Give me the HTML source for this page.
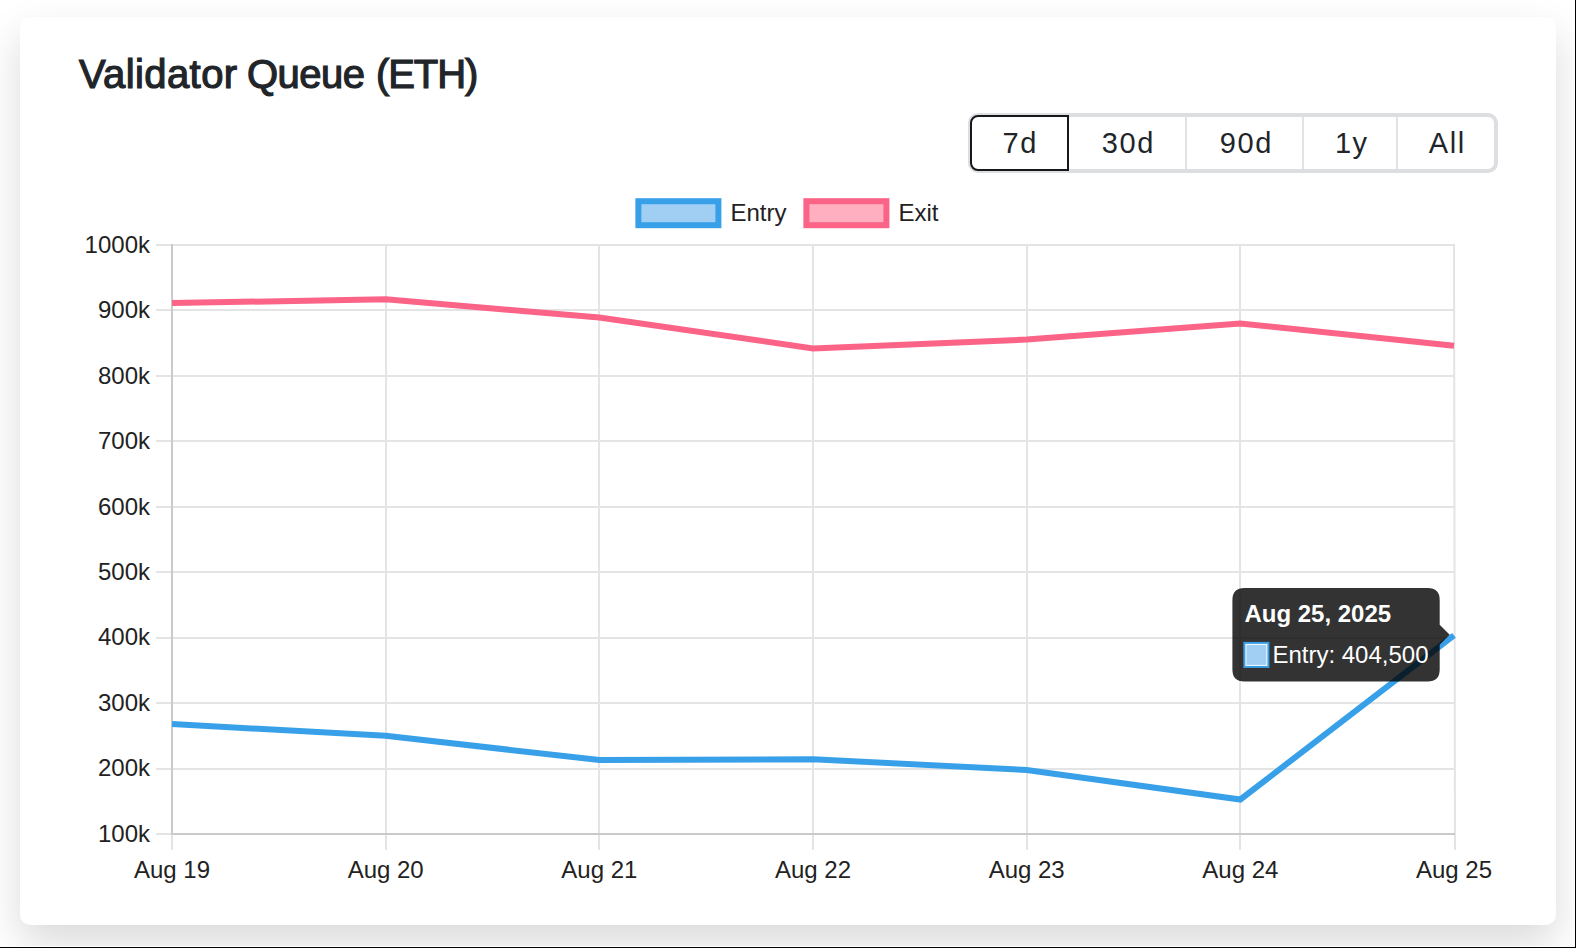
<!DOCTYPE html>
<html><head><meta charset="utf-8">
<style>
html,body{margin:0;padding:0;}
body{width:1576px;height:948px;position:relative;overflow:hidden;background:#fff;font-family:"Liberation Sans",sans-serif;}
.card{position:absolute;left:20px;top:17px;width:1536px;height:908px;background:#fff;border-radius:10px;box-shadow:0 18px 40px rgba(0,0,0,0.15);}
.title{position:absolute;left:79px;top:50px;font-size:40px;font-weight:normal;-webkit-text-stroke:1.2px #212529;letter-spacing:-0.2px;color:#212529;line-height:48px;white-space:nowrap;}
.grp{position:absolute;left:968px;top:113px;width:530px;height:60px;box-sizing:border-box;border:4px solid #dcdee1;border-radius:10px;background:#fff;}
.btn{position:absolute;top:0;height:52px;line-height:53px;text-align:center;font-size:29px;letter-spacing:1.6px;text-indent:1.6px;color:#212529;}
.div{position:absolute;top:0;width:2px;height:52px;background:#e2e3e5;}
.act{position:absolute;left:970px;top:115px;width:99px;height:56px;box-sizing:border-box;border:2px solid #16181b;border-radius:8px 0 0 8px;background:#fff;}
svg{position:absolute;left:0;top:0;}
.t{font-family:"Liberation Sans",sans-serif;font-size:24px;fill:#222;}
.tb{font-family:"Liberation Sans",sans-serif;font-size:24px;font-weight:bold;fill:#fff;}
.tw{font-family:"Liberation Sans",sans-serif;font-size:24px;fill:#fff;}
.lb{position:absolute;left:0;top:947px;width:1576px;height:1px;background:#000;}
.rb{position:absolute;left:1575px;top:0;width:1px;height:948px;background:#000;}
</style></head><body>
<div class="card"></div>
<div class="title" style="left:79px;letter-spacing:0.4px">Validator</div><div class="title" style="left:247px;letter-spacing:-0.5px">Queue</div><div class="title" style="left:376px;letter-spacing:-1.1px">(ETH)</div>
<div class="grp">
<div class="div" style="left:213px"></div>
<div class="div" style="left:330px"></div>
<div class="div" style="left:424px"></div>
<div class="btn" style="left:97px;width:117px">30d</div>
<div class="btn" style="left:216px;width:115px">90d</div>
<div class="btn" style="left:333px;width:92px">1y</div>
<div class="btn" style="left:427px;width:95px">All</div>
</div>
<div class="act"></div>
<div class="btn" style="left:970px;top:115px;width:99px;height:56px;line-height:57px;">7d</div>
<svg width="1576" height="948" viewBox="0 0 1576 948">
<line x1="156" y1="245" x2="1455" y2="245" stroke="#e4e4e4" stroke-width="2"/>
<line x1="156" y1="310" x2="1455" y2="310" stroke="#e4e4e4" stroke-width="2"/>
<line x1="156" y1="376" x2="1455" y2="376" stroke="#e4e4e4" stroke-width="2"/>
<line x1="156" y1="441" x2="1455" y2="441" stroke="#e4e4e4" stroke-width="2"/>
<line x1="156" y1="507" x2="1455" y2="507" stroke="#e4e4e4" stroke-width="2"/>
<line x1="156" y1="572" x2="1455" y2="572" stroke="#e4e4e4" stroke-width="2"/>
<line x1="156" y1="638" x2="1455" y2="638" stroke="#e4e4e4" stroke-width="2"/>
<line x1="156" y1="703" x2="1455" y2="703" stroke="#e4e4e4" stroke-width="2"/>
<line x1="156" y1="769" x2="1455" y2="769" stroke="#e4e4e4" stroke-width="2"/>
<line x1="156" y1="834" x2="1455" y2="834" stroke="#e4e4e4" stroke-width="2"/>
<line x1="172" y1="244" x2="172" y2="850" stroke="#e4e4e4" stroke-width="2"/>
<line x1="386" y1="244" x2="386" y2="850" stroke="#e4e4e4" stroke-width="2"/>
<line x1="599" y1="244" x2="599" y2="850" stroke="#e4e4e4" stroke-width="2"/>
<line x1="813" y1="244" x2="813" y2="850" stroke="#e4e4e4" stroke-width="2"/>
<line x1="1027" y1="244" x2="1027" y2="850" stroke="#e4e4e4" stroke-width="2"/>
<line x1="1240" y1="244" x2="1240" y2="850" stroke="#e4e4e4" stroke-width="2"/>
<line x1="1454" y1="244" x2="1455" y2="850" stroke="#e4e4e4" stroke-width="2"/>
<line x1="172" y1="244" x2="172" y2="835" stroke="#cacaca" stroke-width="2"/>
<line x1="171" y1="834" x2="1455" y2="834" stroke="#cacaca" stroke-width="2"/>
<text x="150" y="252.80" text-anchor="end" class="t">1000k</text>
<text x="150" y="318.24" text-anchor="end" class="t">900k</text>
<text x="150" y="383.69" text-anchor="end" class="t">800k</text>
<text x="150" y="449.13" text-anchor="end" class="t">700k</text>
<text x="150" y="514.58" text-anchor="end" class="t">600k</text>
<text x="150" y="580.02" text-anchor="end" class="t">500k</text>
<text x="150" y="645.47" text-anchor="end" class="t">400k</text>
<text x="150" y="710.91" text-anchor="end" class="t">300k</text>
<text x="150" y="776.36" text-anchor="end" class="t">200k</text>
<text x="150" y="841.80" text-anchor="end" class="t">100k</text>
<text x="172.00" y="878.4" text-anchor="middle" class="t">Aug 19</text>
<text x="385.67" y="878.4" text-anchor="middle" class="t">Aug 20</text>
<text x="599.33" y="878.4" text-anchor="middle" class="t">Aug 21</text>
<text x="813.00" y="878.4" text-anchor="middle" class="t">Aug 22</text>
<text x="1026.67" y="878.4" text-anchor="middle" class="t">Aug 23</text>
<text x="1240.33" y="878.4" text-anchor="middle" class="t">Aug 24</text>
<text x="1454.00" y="878.4" text-anchor="middle" class="t">Aug 25</text>
<polyline points="172.00,303.10 385.67,299.30 599.33,317.60 813.00,348.40 1026.67,339.60 1240.33,323.40 1454.00,345.70" fill="none" stroke="#fb6387" stroke-width="6" stroke-linejoin="miter"/>
<polyline points="172.00,724.00 385.67,735.80 599.33,760.00 813.00,759.30 1026.67,770.00 1240.33,799.50 1454.00,635.30" fill="none" stroke="#38a0e8" stroke-width="6" stroke-linejoin="miter"/>
<rect x="638.4" y="201.2" width="80" height="24" fill="#a0cff3" stroke="#38a0e8" stroke-width="6"/>
<text x="730.4" y="220.5" class="t">Entry</text>
<rect x="806.4" y="201.2" width="80" height="24" fill="#ffafc0" stroke="#fb6387" stroke-width="6"/>
<text x="898.4" y="220.5" class="t">Exit</text>
<path d="M1244.4,588 H1427.7 Q1439.7,588 1439.7,600 V624.7 L1449.7,634.7 L1439.7,644.7 V669.6 Q1439.7,681.6 1427.7,681.6 H1244.4 Q1232.4,681.6 1232.4,669.6 V600 Q1232.4,588 1244.4,588 Z" fill="rgba(0,0,0,0.8)"/>
<text x="1244.4" y="621.6" class="tb">Aug 25, 2025</text>
<rect x="1244.4" y="642.9" width="24" height="24" fill="#fff" stroke="#38a0e8" stroke-width="2"/>
<rect x="1246.4" y="644.9" width="20" height="20" fill="#a0cff3"/>
<text x="1272.4" y="662.5" class="tw">Entry: 404,500</text>
</svg>
<div class="wl" style="position:absolute;left:0;top:946px;width:1575px;height:1px;background:#fff"></div><div style="position:absolute;left:1574px;top:0;width:1px;height:947px;background:#fff"></div><div class="lb"></div><div class="rb"></div>
</body></html>
